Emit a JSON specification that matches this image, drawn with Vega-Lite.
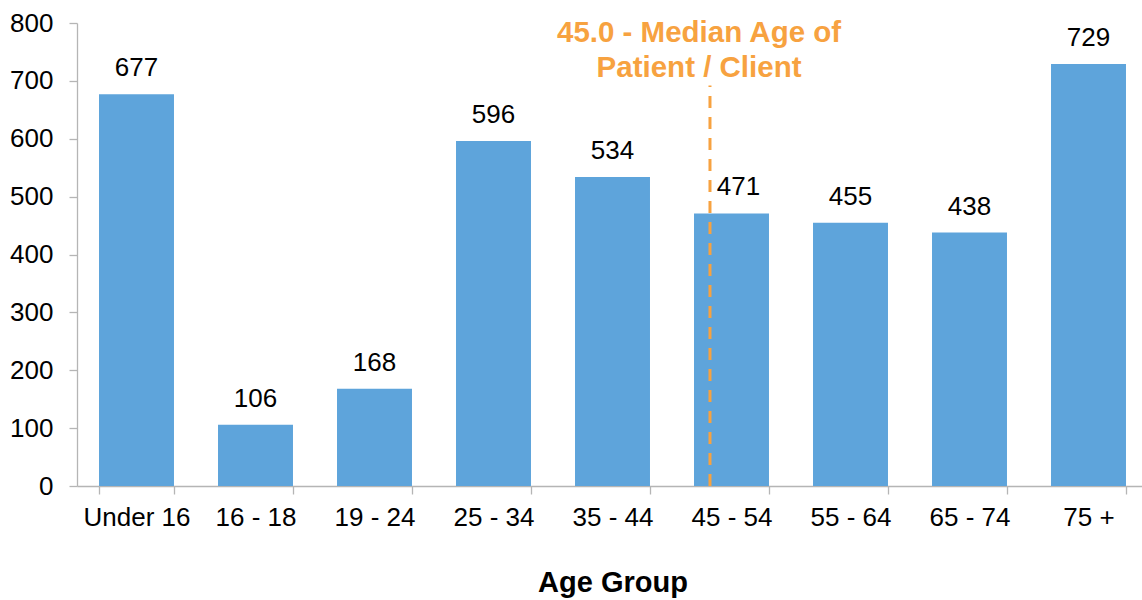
{
  "$schema": "https://vega.github.io/schema/vega-lite/v6.json",
  "width": 1071,
  "height": 463,
  "autosize": {"type": "none"},
  "padding": {"left": 77, "top": 23, "right": 0, "bottom": 114},
  "background": "white",
  "config": {
    "view": {"stroke": null},
    "font": "Liberation Sans",
    "axis": {
      "labelFont": "Liberation Sans",
      "titleFont": "Liberation Sans",
      "labelColor": "#000000",
      "titleColor": "#000000",
      "domainColor": "#B5B5B5",
      "tickColor": "#B5B5B5",
      "domainWidth": 1.3,
      "tickWidth": 1.3,
      "tickSize": 8,
      "grid": false
    }
  },
  "datasets": {
    "ages": [
      {"group": "Under 16", "count": 677},
      {"group": "16 - 18", "count": 106},
      {"group": "19 - 24", "count": 168},
      {"group": "25 - 34", "count": 596},
      {"group": "35 - 44", "count": 534},
      {"group": "45 - 54", "count": 471},
      {"group": "55 - 64", "count": 455},
      {"group": "65 - 74", "count": 438},
      {"group": "75 +", "count": 729}
    ],
    "median": [
      {"group": "45 - 54", "low": 0, "high": 692, "labelAt": 767, "label": ["45.0 - Median Age of", "Patient / Client"]}
    ]
  },
  "layer": [
    {
      "data": {"name": "ages"},
      "mark": {"type": "bar", "color": "#5EA4DB"},
      "encoding": {
        "x": {
          "field": "group",
          "type": "nominal",
          "sort": null,
          "scale": {"paddingInner": 0.37, "paddingOuter": 0.185},
          "axis": {
            "title": "Age Group",
            "labelAngle": 0,
            "labelFontSize": 26,
            "labelPadding": 10,
            "tickBand": "extent",
            "titleFontSize": 29,
            "titleFontWeight": "bold",
            "titlePadding": 38
          }
        },
        "y": {
          "field": "count",
          "type": "quantitative",
          "scale": {"domain": [0, 800], "nice": false},
          "axis": {
            "title": null,
            "values": [0, 100, 200, 300, 400, 500, 600, 700, 800],
            "labelFontSize": 26,
            "labelPadding": 16
          }
        }
      }
    },
    {
      "data": {"name": "ages"},
      "transform": [{"filter": "datum.group !== '45 - 54'"}],
      "mark": {"type": "text", "fontSize": 26, "color": "#000000", "baseline": "alphabetic", "dy": -18},
      "encoding": {
        "x": {"field": "group", "type": "nominal", "sort": null},
        "y": {"field": "count", "type": "quantitative"},
        "text": {"field": "count", "type": "quantitative"}
      }
    },
    {
      "data": {"name": "ages"},
      "transform": [{"filter": "datum.group === '45 - 54'"}],
      "mark": {"type": "text", "fontSize": 26, "color": "#000000", "baseline": "alphabetic", "dy": -18, "dx": 7},
      "encoding": {
        "x": {"field": "group", "type": "nominal", "sort": null},
        "y": {"field": "count", "type": "quantitative"},
        "text": {"field": "count", "type": "quantitative"}
      }
    },
    {
      "data": {"name": "median"},
      "mark": {"type": "rule", "color": "#F7A240", "strokeWidth": 3, "strokeDash": [12, 9]},
      "encoding": {
        "x": {"field": "group", "type": "nominal", "sort": null, "bandPosition": 0.213},
        "y": {"field": "low", "type": "quantitative"},
        "y2": {"field": "high"}
      }
    },
    {
      "data": {"name": "median"},
      "mark": {"type": "text", "fontSize": 29.5, "fontWeight": "bold", "color": "#F7A240", "baseline": "alphabetic", "align": "center", "lineHeight": 35},
      "encoding": {
        "x": {"field": "group", "type": "nominal", "sort": null, "bandPosition": 0.067},
        "y": {"field": "labelAt", "type": "quantitative"},
        "text": {"field": "label"}
      }
    }
  ]
}
